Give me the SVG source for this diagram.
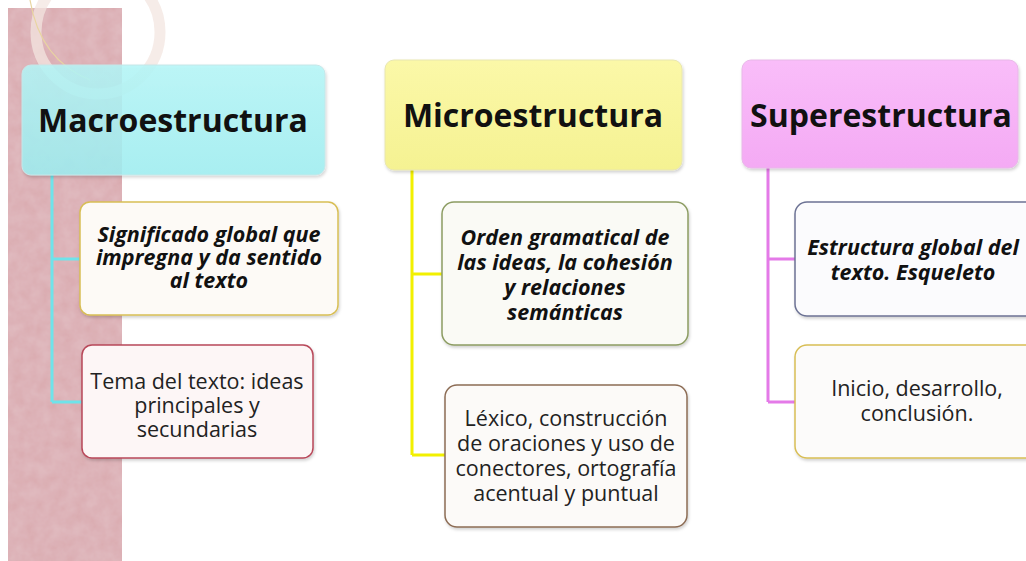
<svg xmlns="http://www.w3.org/2000/svg" width="1026" height="561" viewBox="0 0 1026 561">
<defs>
<filter id="noise" x="0" y="0" width="100%" height="100%">
<feTurbulence type="fractalNoise" baseFrequency="0.08" numOctaves="3" seed="4" result="t"/>
<feColorMatrix in="t" type="matrix" values="0 0 0 0 0.82  0 0 0 0 0.62  0 0 0 0 0.65  0 0 0 0.5 0" result="c"/>
<feComposite in="c" in2="SourceGraphic" operator="in" result="m"/>
<feMerge><feMergeNode in="SourceGraphic"/><feMergeNode in="m"/></feMerge>
</filter>
<filter id="sh" x="-5%" y="-5%" width="110%" height="115%">
<feDropShadow dx="1" dy="2" stdDeviation="1.5" flood-color="#000" flood-opacity="0.18"/>
</filter>
<linearGradient id="gc" x1="0" y1="0" x2="0" y2="1"><stop offset="0" stop-color="#b4f7f8"/><stop offset="1" stop-color="#9eeff2"/></linearGradient>
<linearGradient id="gy" x1="0" y1="0" x2="0" y2="1"><stop offset="0" stop-color="#fbf8a8"/><stop offset="1" stop-color="#f5f292"/></linearGradient>
<linearGradient id="gp" x1="0" y1="0" x2="0" y2="1"><stop offset="0" stop-color="#f9bdf9"/><stop offset="1" stop-color="#f4aaf4"/></linearGradient>
</defs>
<style>
.hd{font-family:"Open Sans","Liberation Sans",sans-serif;font-weight:bold;font-size:32px;fill:#111;text-anchor:middle}
.bi{font-family:"Open Sans","Liberation Sans",sans-serif;font-weight:bold;font-style:italic;font-size:21.5px;fill:#111;text-anchor:middle}
.rg{font-family:"Open Sans","Liberation Sans",sans-serif;font-size:21.5px;fill:#222;text-anchor:middle}
.box{stroke-width:1.5}
.cn{fill:none;stroke-width:3}
</style>
<rect width="1026" height="561" fill="#ffffff"/>
<g id="background">
<rect x="8" y="8" width="114" height="553" fill="#d9a9ae" filter="url(#noise)"/>
<circle cx="98" cy="32" r="62" fill="none" stroke="#f3e6e0" stroke-opacity="0.75" stroke-width="11"/>
<path d="M30 0 Q40 60 90 80" fill="none" stroke="#e8d5a0" stroke-width="1.2"/>
</g>
<g id="connectors">
<path class="cn" stroke="#6fe3ea" d="M52 175 V402 M52 259 H80 M52 402 H82"/>
<path class="cn" stroke="#f2f000" d="M412 170 V455 M412 274 H442 M412 455 H445"/>
<path class="cn" stroke="#e47ae8" d="M768 168 V402 M768 259 H795 M768 402 H795"/>
</g>
<g id="macro">
<rect x="22" y="65" width="303" height="110" rx="9" fill="url(#gc)" fill-opacity="0.85" stroke="#c6e6e8" stroke-width="1" filter="url(#sh)"/>
<text class="hd" x="173" y="132">Macroestructura</text>
</g>
<g id="significado">
<rect class="box" x="80" y="202" width="258" height="113" rx="10" fill="#fdfaf6" stroke="#d8be55" filter="url(#sh)"/>
<text class="bi" x="209" y="242">Significado global que</text>
<text class="bi" x="209" y="265">impregna y da sentido</text>
<text class="bi" x="209" y="288">al texto</text>
</g>
<g id="tema">
<rect class="box" x="82" y="345" width="231" height="113" rx="10" fill="#fdf6f6" stroke="#b8485a" filter="url(#sh)"/>
<text class="rg" x="197" y="389">Tema del texto: ideas</text>
<text class="rg" x="197" y="413">principales y</text>
<text class="rg" x="197" y="437">secundarias</text>
</g>
<g id="micro">
<rect x="385" y="60" width="297" height="110" rx="9" fill="url(#gy)" stroke="#e8e6b0" stroke-width="1" filter="url(#sh)"/>
<text class="hd" x="533" y="127">Microestructura</text>
</g>
<g id="orden">
<rect class="box" x="442" y="202" width="246" height="143" rx="12" fill="#fafaf5" stroke="#8c9c62" filter="url(#sh)"/>
<text class="bi" x="565" y="245">Orden gramatical de</text>
<text class="bi" x="565" y="270">las ideas, la cohesión</text>
<text class="bi" x="565" y="295">y relaciones</text>
<text class="bi" x="565" y="320">semánticas</text>
</g>
<g id="lexico">
<rect class="box" x="445" y="385" width="242" height="142" rx="12" fill="#fcfaf8" stroke="#8c6c54" filter="url(#sh)"/>
<text class="rg" x="566" y="426">Léxico,  construcción</text>
<text class="rg" x="566" y="451">de oraciones y uso de</text>
<text class="rg" x="566" y="476">conectores, ortografía</text>
<text class="rg" x="566" y="501">acentual y puntual</text>
</g>
<g id="super">
<rect x="742" y="60" width="276" height="108" rx="9" fill="url(#gp)" stroke="#e8b8e8" stroke-width="1" filter="url(#sh)"/>
<text class="hd" x="881" y="127">Superestructura</text>
</g>
<g id="estructura">
<rect class="box" x="795" y="202" width="245" height="114" rx="12" fill="#fbfbfd" stroke="#6c7294" filter="url(#sh)"/>
<text class="bi" x="913" y="255">Estructura global del</text>
<text class="bi" x="913" y="280">texto. Esqueleto</text>
</g>
<g id="inicio">
<rect class="box" x="795" y="345" width="245" height="113" rx="12" fill="#fcfbfa" stroke="#d8be55" filter="url(#sh)"/>
<text class="rg" x="917" y="396">Inicio, desarrollo,</text>
<text class="rg" x="917" y="421">conclusión.</text>
</g>
</svg>
